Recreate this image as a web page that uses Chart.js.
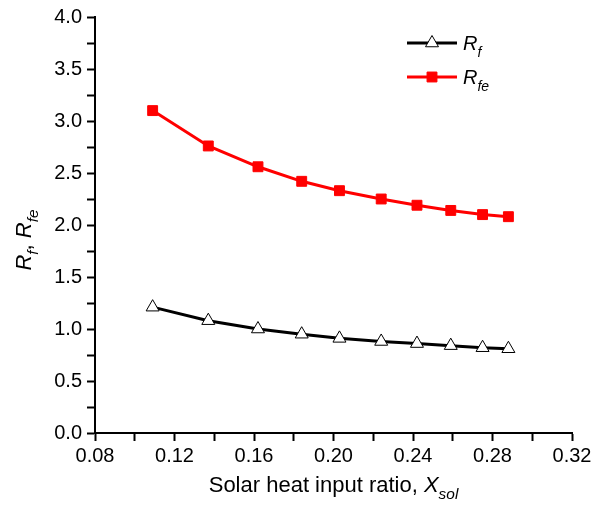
<!DOCTYPE html>
<html>
<head>
<meta charset="utf-8">
<script src="https://cdn.jsdelivr.net/npm/chart.js@4/dist/chart.umd.min.js"></script>
<style>
  html, body { margin: 0; padding: 0; background: #fff; }
  #wrap { width: 603px; height: 511px; }
</style>
</head>
<body>
<div id="wrap"><canvas id="chart"></canvas></div>
<script>
// solar heat input ratio (x) and the two series
const xSol = [0.109, 0.137, 0.162, 0.184, 0.203, 0.224, 0.242, 0.259, 0.275, 0.288];
const rF = [1.21, 1.08, 1.00, 0.95, 0.91, 0.88, 0.86, 0.84, 0.82, 0.81];
const rFe = [3.10, 2.76, 2.56, 2.42, 2.33, 2.25, 2.19, 2.14, 2.10, 2.08];

const FONT = '"Liberation Sans", Arial, sans-serif';

// text with italic / subscript pieces
function drawSubText(ctx, x, y, parts, size) {
  let cx = x;
  parts.forEach(p => {
    const s = p.sub ? size * 0.7 : size;
    ctx.font = (p.italic ? 'italic ' : '') + s + 'px ' + FONT;
    ctx.fillText(p.t, cx, y + (p.sub ? size * 0.33 : 0));
    cx += ctx.measureText(p.t).width;
  });
  return cx - x;
}

function measureSub(ctx, parts, size) {
  let w = 0;
  parts.forEach(p => {
    const s = p.sub ? size * 0.7 : size;
    ctx.font = (p.italic ? 'italic ' : '') + s + 'px ' + FONT;
    w += ctx.measureText(p.t).width;
  });
  return w;
}

const decorations = {
  id: 'decorations',
  afterDraw(chart) {
    const ctx = chart.ctx;
    const area = chart.chartArea;
    ctx.save();
    ctx.fillStyle = '#000';
    ctx.textBaseline = 'alphabetic';

    // x axis title
    const xt = [
      { t: 'Solar heat input ratio, ' },
      { t: 'X', italic: true },
      { t: 'sol', italic: true, sub: true }
    ];
    const xw = measureSub(ctx, xt, 22);
    drawSubText(ctx, (area.left + area.right) / 2 - xw / 2, 492, xt, 22);

    // y axis title (rotated)
    const yt = [
      { t: 'R', italic: true },
      { t: 'f', italic: true, sub: true },
      { t: ', ' },
      { t: 'R', italic: true },
      { t: 'fe', italic: true, sub: true }
    ];
    const yw = measureSub(ctx, yt, 22);
    ctx.save();
    ctx.translate(31, 240);
    ctx.rotate(-Math.PI / 2);
    drawSubText(ctx, -yw / 2, 0, yt, 22);
    ctx.restore();

    // legend
    const rows = [
      { ds: chart.data.datasets[0], y: 43, parts: [{ t: 'R', italic: true }, { t: 'f', italic: true, sub: true }] },
      { ds: chart.data.datasets[1], y: 77, parts: [{ t: 'R', italic: true }, { t: 'fe', italic: true, sub: true }] }
    ];
    rows.forEach(r => {
      ctx.strokeStyle = r.ds.borderColor;
      ctx.lineWidth = 3;
      ctx.beginPath();
      ctx.moveTo(407, r.y);
      ctx.lineTo(457, r.y);
      ctx.stroke();
      ctx.fillStyle = r.ds.pointBackgroundColor;
      ctx.strokeStyle = r.ds.pointBorderColor;
      ctx.lineWidth = 1;
      Chart.helpers.drawPoint(ctx, {
        pointStyle: r.ds.pointStyle,
        radius: r.ds.pointRadius,
        borderWidth: 1,
        rotation: 0
      }, 432, r.y);
      ctx.fillStyle = '#000';
      drawSubText(ctx, 463, r.y + 7, r.parts, 20);
    });
    ctx.restore();
  }
};

new Chart(document.getElementById('chart'), {
  type: 'line',
  data: {
    datasets: [
      {
        label: 'Rf',
        data: xSol.map((x, i) => ({ x: x, y: rF[i] })),
        borderColor: '#000',
        borderWidth: 3,
        pointStyle: 'triangle',
        pointRadius: 7.5,
        pointBackgroundColor: '#fff',
        pointBorderColor: '#000',
        pointBorderWidth: 1,
        tension: 0
      },
      {
        label: 'Rfe',
        data: xSol.map((x, i) => ({ x: x, y: rFe[i] })),
        borderColor: '#ff0000',
        borderWidth: 3,
        pointStyle: 'rect',
        pointRadius: 7,
        pointBackgroundColor: '#ff0000',
        pointBorderColor: '#ff0000',
        pointBorderWidth: 1,
        tension: 0
      }
    ]
  },
  options: {
    responsive: true,
    maintainAspectRatio: false,
    animation: false,
    layout: { padding: { top: 17, right: 31, left: 0, bottom: 0 } },
    plugins: {
      legend: { display: false },
      tooltip: { enabled: false }
    },
    scales: {
      x: {
        type: 'linear',
        min: 0.08,
        max: 0.32,
        afterFit: (s) => { s.height = 78; },
        border: { color: '#000', width: 2 },
        grid: { drawOnChartArea: false, tickLength: 8, tickColor: '#000', tickWidth: 2 },
        ticks: {
          stepSize: 0.02,
          autoSkip: false,
          maxRotation: 0,
          color: '#000',
          padding: 3,
          font: { family: FONT, size: 20 },
          callback: (v) => Math.round(v * 100) % 4 === 0 ? v.toFixed(2) : ''
        }
      },
      y: {
        min: 0,
        max: 4,
        afterFit: (s) => { s.width = 95; },
        border: { color: '#000', width: 2 },
        grid: { drawOnChartArea: false, tickLength: 8, tickColor: '#000', tickWidth: 2 },
        ticks: {
          stepSize: 0.25,
          autoSkip: false,
          color: '#000',
          padding: 5,
          font: { family: FONT, size: 20 },
          callback: (v) => Math.round(v * 100) % 50 === 0 ? v.toFixed(1) : ''
        }
      }
    }
  },
  plugins: [decorations]
});
</script>
</body>
</html>
